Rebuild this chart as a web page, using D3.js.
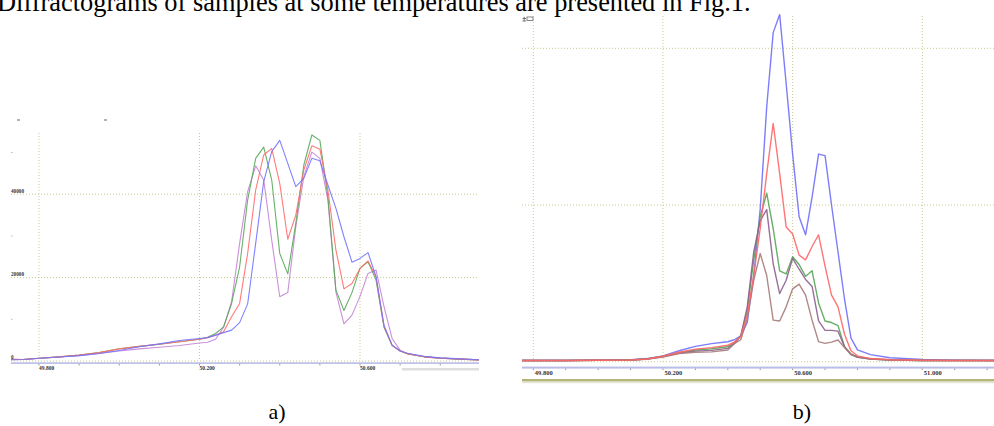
<!DOCTYPE html>
<html>
<head>
<meta charset="utf-8">
<script src="https://cdn.jsdelivr.net/npm/d3@7"></script>
<style>
  html, body { margin: 0; padding: 0; background: #fff; }
  svg { display: block; }
</style>
</head>
<body>
<script>
// ---------- data ----------
const caption = "Diffractograms of samples at some temperatures are presented in Fig.1.";
const panelLabels = ["a)", "b)"];

// panel a: 2θ positions and intensities of four samples
const angleA = [49.73, 49.76, 49.80, 49.85, 49.90, 49.95, 50.00, 50.05, 50.10, 50.15,
  50.20, 50.22, 50.24, 50.26, 50.28, 50.30, 50.32, 50.34, 50.36, 50.38,
  50.40, 50.42, 50.44, 50.46, 50.48, 50.50, 50.52, 50.54, 50.56, 50.58,
  50.60, 50.62, 50.64, 50.66, 50.68, 50.70, 50.72, 50.76, 50.80, 50.85, 50.90];
const purpleA = [300, 350, 600, 950, 1300, 1800, 2400, 2900, 3300, 3700,
  4300, 4500, 5200, 8100, 14200, 28200, 40600, 46800, 43400, 29000,
  15400, 16400, 32200, 44200, 50100, 48600, 38600, 16500, 8900, 11000,
  15500, 21000, 21800, 13000, 5400, 2600, 1700, 1000, 700, 450, 250];
const greenA = [350, 350, 650, 1000, 1400, 2000, 2950, 3500, 4000, 4600,
  5200, 5700, 6600, 8200, 13800, 22600, 38600, 48600, 51300, 43400,
  25800, 20900, 33000, 47000, 54200, 52900, 39400, 17000, 12100, 16400,
  22200, 23800, 19400, 8000, 3700, 2400, 1700, 1000, 700, 450, 250];
const redA = [450, 350, 650, 1000, 1400, 2000, 2900, 3500, 4000, 4600,
  5200, 5600, 6200, 7000, 10600, 13800, 25800, 41000, 49400, 51000,
  42600, 29200, 35000, 45800, 51600, 50800, 41000, 26600, 17300, 18600,
  22200, 24000, 20200, 8200, 3800, 2400, 1700, 1000, 700, 450, 250];
const blueA = [300, 350, 650, 950, 1300, 1800, 2500, 3400, 4100, 4900,
  5400, 5600, 6200, 6800, 7400, 9200, 13700, 28200, 43000, 50200,
  52900, 47400, 41800, 43800, 48600, 48000, 42200, 36600, 29800, 23700,
  24600, 26000, 20200, 8500, 3800, 2400, 1800, 1100, 750, 500, 280];
const gridXA = [49.8, 50.2, 50.6];
const tickXA = [49.8, 49.9, 50.0, 50.1, 50.2, 50.3, 50.4, 50.5, 50.6, 50.7, 50.8];
const tickLabelsA = ["49.800", "50.200", "50.600"];
const gridYA = [20000, 40000];
const minorYA = [10000, 30000, 50000];
const yTicksA = [0, 20000, 40000];
const yLabelsA = ["0", "20000", "40000"];

// panel b: 2θ positions and intensities of five samples
const angleB = [49.765, 49.90, 50.00, 50.10, 50.15, 50.20, 50.25, 50.30, 50.35, 50.40,
  50.42, 50.44, 50.46, 50.48, 50.50, 50.52, 50.54, 50.56, 50.58, 50.60,
  50.62, 50.64, 50.66, 50.68, 50.70, 50.72, 50.74, 50.76, 50.78, 50.80,
  50.84, 50.90, 51.00, 51.10, 51.23];
const blueB = [150, 150, 200, 250, 400, 750, 1400, 1950, 2300, 2550,
  2800, 3300, 5000, 11000, 19500, 32500, 42000, 44300, 35500, 26500,
  18500, 16200, 21000, 26500, 26300, 20000, 14000, 8000, 3000, 1500,
  900, 500, 300, 200, 150];
const redB = [150, 150, 180, 220, 350, 700, 1200, 1600, 1800, 2100,
  2500, 3200, 6000, 11000, 17000, 24000, 30400, 24000, 17200, 16300,
  13600, 13000, 14700, 16200, 12200, 8500, 7000, 3500, 1400, 750,
  400, 250, 180, 150, 150];
const greenB = [150, 150, 180, 220, 350, 700, 1150, 1500, 1650, 1900,
  2400, 3300, 6500, 13000, 18500, 21500, 17000, 11600, 11200, 13400,
  12400, 10900, 11600, 7500, 5200, 5000, 4600, 1900, 1000, 600,
  350, 220, 150, 150, 150];
const purpleB = [150, 150, 180, 220, 330, 650, 1100, 1350, 1450, 1700,
  2300, 3300, 7000, 14000, 18000, 19400, 12500, 8700, 10400, 13200,
  11800, 10500, 9600, 5200, 4000, 4000, 3900, 1900, 900, 550,
  330, 220, 150, 150, 150];
const brownB = [150, 150, 180, 220, 320, 600, 1050, 1200, 1250, 1500,
  2300, 2800, 5500, 10400, 13800, 11000, 5300, 5200, 7000, 9300,
  9900, 8500, 5300, 2560, 2340, 2500, 2770, 1800, 900, 650,
  380, 240, 150, 150, 150];
const gridXB = [49.8, 50.2, 50.6, 51.0];
const tickXB = [49.8, 49.9, 50.0, 50.1, 50.2, 50.3, 50.4, 50.5, 50.6, 50.7, 50.8, 50.9, 51.0, 51.1, 51.2];
const tickLabelsB = ["49.800", "50.200", "50.600", "51.000"];
const gridYB = [20000, 40000];

// ---------- drawing ----------
const W = 994, H = 426;
const svg = d3.select("body").append("svg").attr("width", W).attr("height", H);
svg.append("rect").attr("width", W).attr("height", H).attr("fill", "#fff");

const gridColor = "#c9c98e";
const tickFont = "'Liberation Serif', 'DejaVu Serif', serif";

function panel(opts) {
  const g = svg.append("g");
  const { x, y, left, right, top, base, axisY } = opts;
  const clipId = "clip-" + opts.id;
  svg.append("defs").append("clipPath").attr("id", clipId)
    .append("rect").attr("x", left).attr("y", 0).attr("width", right - left).attr("height", base + 1.5);

  // dotted grid
  g.selectAll(".vg").data(opts.gridX).join("line")
    .attr("x1", d => x(d)).attr("x2", d => x(d))
    .attr("y1", top).attr("y2", base)
    .attr("stroke", gridColor).attr("stroke-width", 1).attr("stroke-dasharray", "1,2");
  g.selectAll(".hg").data(opts.gridY.concat([0])).join("line")
    .attr("x1", left).attr("x2", right)
    .attr("y1", d => y(d)).attr("y2", d => y(d))
    .attr("stroke", gridColor).attr("stroke-width", 1).attr("stroke-dasharray", "1,2");

  // x axis bar, ticks, labels
  g.append("rect").attr("x", left).attr("y", axisY).attr("width", right - left)
    .attr("height", opts.axisH).attr("fill", "#b9bce6");
  g.selectAll(".tk").data(opts.tickX).join("line")
    .attr("x1", d => x(d)).attr("x2", d => x(d))
    .attr("y1", axisY + opts.axisH).attr("y2", axisY + opts.axisH + 1.5)
    .attr("stroke", "#777").attr("stroke-width", 0.8);
  g.selectAll(".tl").data(opts.tickLabels).join("text")
    .attr("x", (d, i) => x(opts.gridX[i]) + opts.labelDx)
    .attr("y", opts.labelY)
    .attr("font-family", tickFont).attr("font-weight", "bold")
    .attr("font-size", opts.labelSize).attr("fill", "#333")
    .text(d => d);

  // curves
  const lineGen = d3.line().x(d => x(d[0])).y(d => y(d[1]));
  const lines = g.append("g").attr("clip-path", `url(#${clipId})`);
  opts.series.forEach(s => {
    lines.append("path")
      .datum(opts.angles.map((a, i) => [a, s.values[i]]))
      .attr("d", lineGen)
      .attr("fill", "none").attr("stroke", s.color)
      .attr("stroke-width", opts.lineW).attr("stroke-linejoin", "round")
      .attr("opacity", 0.9);
  });
  return g;
}

// panel a
const xA = d3.scaleLinear().domain([49.8, 50.6]).range([39, 360]);
const yA = d3.scaleLinear().domain([0, 40000]).range([361, 194.2]);
const gA = panel({
  id: "a", x: xA, y: yA, left: 11, right: 479, top: 133, base: 361,
  axisY: 362.3, axisH: 1.6, gridX: gridXA, gridY: gridYA, tickX: tickXA,
  tickLabels: tickLabelsA, labelDx: 0, labelY: 369.5, labelSize: 5.5, lineW: 1.1,
  angles: angleA,
  series: [
    { values: purpleA, color: "#c583d6" },
    { values: greenA, color: "#58a858" },
    { values: redA, color: "#ff6b6b" },
    { values: blueA, color: "#7373ff" }
  ]
});
// y labels and minor ticks for panel a
gA.selectAll(".yl").data(yLabelsA).join("text")
  .attr("x", 11).attr("y", (d, i) => yA(yTicksA[i]) - 1.6)
  .attr("font-family", tickFont).attr("font-weight", "bold")
  .attr("font-size", 5.2).attr("fill", "#333").text(d => d);
gA.selectAll(".ym").data(minorYA).join("line")
  .attr("x1", 11).attr("x2", 12.5).attr("y1", d => yA(d)).attr("y2", d => yA(d))
  .attr("stroke", "#aaa").attr("stroke-width", 0.8);
// small header marks and scroll bar
gA.selectAll(".hm").data([17, 104]).join("line")
  .attr("x1", d => d).attr("x2", d => d + 3).attr("y1", 120).attr("y2", 120)
  .attr("stroke", "#555").attr("stroke-width", 0.9);
gA.append("rect").attr("x", 402).attr("y", 368).attr("width", 77).attr("height", 2.5)
  .attr("fill", "#dedede");

// panel b
const xB = d3.scaleLinear().domain([49.8, 51.0]).range([533.3, 922.3]);
const yB = d3.scaleLinear().domain([0, 40000]).range([361.7, 48.3]);
const gB = panel({
  id: "b", x: xB, y: yB, left: 522, right: 994, top: 16, base: 361.7,
  axisY: 366.6, axisH: 2, gridX: gridXB, gridY: gridYB, tickX: tickXB,
  tickLabels: tickLabelsB, labelDx: 1.5, labelY: 374.8, labelSize: 6.5, lineW: 1.4,
  angles: angleB,
  series: [
    { values: blueB, color: "#6f6ffb" },
    { values: greenB, color: "#56a556" },
    { values: purpleB, color: "#8d5f8f" },
    { values: brownB, color: "#a87a7a" },
    { values: redB, color: "#ff6666" }
  ]
});
// lower bar under the axis of panel b
gB.append("rect").attr("x", 522).attr("y", 379).attr("width", 472).attr("height", 2.6)
  .attr("fill", "#b4b677");
gB.append("rect").attr("x", 522).attr("y", 381.6).attr("width", 472).attr("height", 1.6)
  .attr("fill", "#e6e6d6");
// toolbar glyph in the corner of panel b
gB.append("rect").attr("x", 527).attr("y", 17).attr("width", 6).attr("height", 3.5)
  .attr("fill", "none").attr("stroke", "#666").attr("stroke-width", 0.8);
gB.append("path").attr("d", "M522.5,18.5 H526 M524.2,16.8 V21 M522.5,21 H526")
  .attr("stroke", "#555").attr("stroke-width", 0.8).attr("fill", "none");

// caption (its top runs off the page edge) and panel labels
svg.append("text").attr("x", -3).attr("y", 11)
  .attr("font-family", "'Liberation Serif', 'Times New Roman', serif")
  .attr("font-size", 26.4).attr("fill", "#000").text(caption);
svg.selectAll(".pl").data(panelLabels).join("text")
  .attr("x", (d, i) => [277, 802][i]).attr("y", 419)
  .attr("text-anchor", "middle")
  .attr("font-family", "'Liberation Serif', 'Times New Roman', serif")
  .attr("font-size", 22).attr("fill", "#000").text(d => d);
</script>
</body>
</html>
